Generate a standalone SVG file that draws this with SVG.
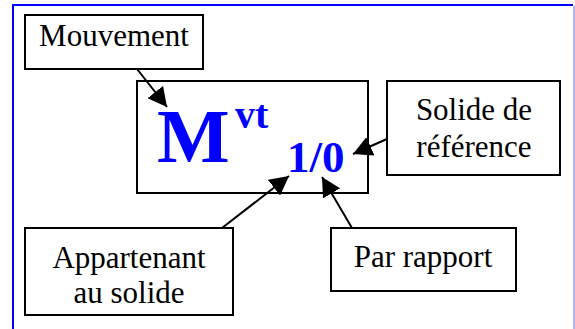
<svg xmlns="http://www.w3.org/2000/svg" width="575" height="329" viewBox="0 0 575 329">
<defs>
<style>
.box{fill:#fff;stroke:#000;stroke-width:2}
.t{font-family:"Liberation Serif","Times New Roman",serif;font-size:31px;fill:#000;text-anchor:middle}
.b{font-family:"Liberation Serif","Times New Roman",serif;font-weight:bold;fill:#0000ff}
.c{stroke:#000;stroke-width:2;fill:none;marker-end:url(#ah)}
</style>
<marker id="ah" markerUnits="userSpaceOnUse" markerWidth="19" markerHeight="20" refX="19" refY="10" orient="auto">
<path d="M0,0 L19,10 L0,20 z" fill="#000"/>
</marker>
</defs>
<rect x="0" y="0" width="575" height="329" fill="#fff"/>
<path d="M13,329 V5 H573" fill="none" stroke="#0000ff" stroke-width="2"/>
<path d="M574,6 V329" fill="none" stroke="#9999ff" stroke-width="1.5"/>
<g id="center">
<rect class="box" x="137" y="81" width="231" height="112"/>
<text class="b" x="157" y="162" font-size="77">M</text>
<text class="b" x="235" y="128" font-size="40">vt</text>
<text class="b" x="287" y="172" font-size="45">1/0</text>
</g>
<g id="mouvement">
<rect class="box" x="25" y="15" width="178" height="54"/>
<text class="t" x="114" y="46">Mouvement</text>
</g>
<g id="solide">
<rect class="box" x="387" y="81" width="173" height="94"/>
<text class="t" x="474" y="120">Solide de</text>
<text class="t" x="474" y="157">référence</text>
</g>
<g id="appartenant">
<rect class="box" x="25" y="228" width="208" height="87"/>
<text class="t" x="129" y="268">Appartenant</text>
<text class="t" x="129" y="303">au solide</text>
</g>
<g id="parrapport">
<rect class="box" x="331" y="228" width="185" height="63"/>
<text class="t" x="423" y="267">Par rapport</text>
</g>
<g id="connectors">
<line class="c" x1="137" y1="69" x2="167" y2="107"/>
<line class="c" x1="387" y1="139" x2="353" y2="154"/>
<line class="c" x1="222" y1="228" x2="289" y2="176"/>
<line class="c" x1="352" y1="228" x2="322" y2="177"/>
</g>
</svg>
